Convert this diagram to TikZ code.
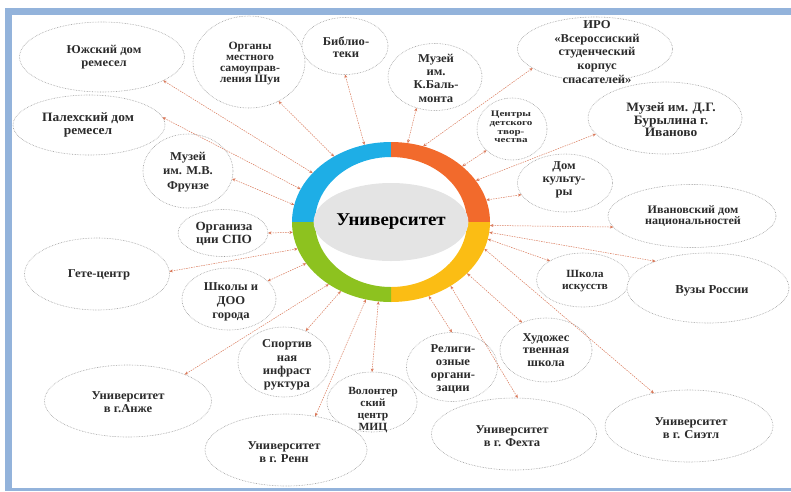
\documentclass[tikz,border=0pt]{standalone}
\usepackage{fontspec}
\setmainfont{Liberation Serif}[FakeStretch=1.05]
\usetikzlibrary{shapes.geometric,arrows.meta}
\definecolor{framec}{HTML}{93B3DB}
\definecolor{bubc}{HTML}{9A9A9A}
\definecolor{txtc}{HTML}{2B2B2B}
\definecolor{linkc}{HTML}{D9795A}
\definecolor{cblue}{HTML}{1EAEE6}
\definecolor{corange}{HTML}{F26A2C}
\definecolor{cyellow}{HTML}{FBBD14}
\definecolor{cgreen}{HTML}{8DC21F}
\definecolor{cgray}{HTML}{E4E4E4}
\newcommand{\fz}[2]{\fontsize{#1}{#2}\selectfont}
\begin{document}
\begin{tikzpicture}[x=1pt,y=-1pt,
  bub/.style={ellipse, draw=bubc, densely dotted, line width=0.6pt, fill=white,
    inner sep=0pt, outer sep=0pt},
  txt/.style={inner sep=0pt, align=center, text=txtc, font={\bfseries\fz{12}{12.8}}},
  conn/.style={draw=linkc, line width=0.5pt, dash pattern=on 1.5pt off 1pt,
    {Stealth[length=3.5pt,width=3pt]}-{Stealth[length=3.5pt,width=3pt]}}]
\useasboundingbox (0,0) rectangle (791,491);
% frame
\fill[framec] (5,8) rectangle (791,15.3);
\fill[framec] (5,8) rectangle (12.3,491);
\fill[framec] (5,488) rectangle (791,491);

% ring
\begin{scope}
\clip (391,222) rectangle (280,130);
\fill[cblue,even odd rule] (391,222) ellipse[x radius=99pt,y radius=80pt] (391,222) ellipse[x radius=76pt,y radius=65pt];
\end{scope}
\begin{scope}
\clip (391,222) rectangle (500,130);
\fill[corange,even odd rule] (391,222) ellipse[x radius=99pt,y radius=80pt] (391,222) ellipse[x radius=76pt,y radius=65pt];
\end{scope}
\begin{scope}
\clip (391,222) rectangle (500,310);
\fill[cyellow,even odd rule] (391,222) ellipse[x radius=99pt,y radius=80pt] (391,222) ellipse[x radius=76pt,y radius=65pt];
\end{scope}
\begin{scope}
\clip (391,222) rectangle (280,310);
\fill[cgreen,even odd rule] (391,222) ellipse[x radius=99pt,y radius=80pt] (391,222) ellipse[x radius=76pt,y radius=65pt];
\end{scope}
\node[ellipse, minimum width=198pt, minimum height=160pt, inner sep=0pt, outer sep=0pt] (ring) at (391,222) {};
\node[ellipse, fill=cgray, minimum width=150pt, minimum height=78pt, inner sep=0pt, text=black, font={\bfseries\fz{18}{20}}] (uni) at (391,222) {Университет};

% satellites (ellipse + its text)
\node[bub, minimum width=165pt, minimum height=70pt] (yuzh) at (102,57) {};
\node[txt] (yuzh-t) at (104,57) {Южский дом\\ремесел};
\node[bub, minimum width=112pt, minimum height=92pt] (organy) at (249,62) {};
\node[txt, font={\bfseries\fz{11.2}{11}}] (organy-t) at (250,63) {Органы\\местного\\самоуправ-\\ления Шуи};
\node[bub, minimum width=86pt, minimum height=57pt] (bibl) at (345,46) {};
\node[txt, font={\bfseries\fz{12}{11.7}}] (bibl-t) at (346,47) {Библио-\\теки};
\node[bub, minimum width=94pt, minimum height=67pt] (balm) at (435,77) {};
\node[txt, font={\bfseries\fz{12}{13.3}}] (balm-t) at (436,78) {Музей\\им.\\К.Баль-\\монта};
\node[bub, minimum width=155pt, minimum height=64pt] (iro) at (595,49) {};
\node[txt, font={\bfseries\fz{12}{13.6}}] (iro-t) at (597,52) {ИРО\\«Всероссиский\\студенческий\\корпус\\спасателей»};
\node[bub, minimum width=70pt, minimum height=62pt] (centr) at (512,129) {};
\node[txt, font={\bfseries\fz{8.5}{8.8}\addfontfeatures{FakeStretch=1.3}}] (centr-t) at (511,127) {Центры\\детского\\твор-\\чества};
\node[bub, minimum width=154pt, minimum height=72pt] (buryl) at (665,118) {};
\node[txt, font={\bfseries\fz{12.8}{12.4}}] (buryl-t) at (671,120) {Музей им. Д.Г.\\Бурылина г.\\Иваново};
\node[bub, minimum width=95pt, minimum height=58pt] (domk) at (565,183) {};
\node[txt, font={\bfseries\fz{12}{13.3}}] (domk-t) at (564,180) {Дом\\культу-\\ры};
\node[bub, minimum width=168pt, minimum height=63pt] (ivan) at (692,216) {};
\node[txt, font={\bfseries\fz{11.5}{11.5}}] (ivan-t) at (693,216) {Ивановский дом\\национальностей};
\node[bub, minimum width=93pt, minimum height=54pt] (shisk) at (583,280) {};
\node[txt, font={\bfseries\fz{11}{12.5}}] (shisk-t) at (585,281) {Школа\\искусств};
\node[bub, minimum width=162pt, minimum height=70pt] (vuzy) at (708,288) {};
\node[txt, font={\bfseries\fz{12.2}{12}}] (vuzy-t) at (712,291) {Вузы России};
\node[bub, minimum width=92pt, minimum height=64pt] (hud) at (546,350) {};
\node[txt] (hud-t) at (546,350) {Художес\\твенная\\школа};
\node[bub, minimum width=168pt, minimum height=72pt] (siat) at (689,426) {};
\node[txt] (siat-t) at (691,428) {Университет\\в г. Сиэтл};
\node[bub, minimum width=165pt, minimum height=72pt] (feht) at (514,434) {};
\node[txt] (feht-t) at (512,436) {Университет\\в г. Фехта};
\node[bub, minimum width=91pt, minimum height=69pt] (relig) at (452,367) {};
\node[txt, font={\bfseries\fz{12}{13.2}}] (relig-t) at (453,369) {Религи-\\озные\\органи-\\зации};
\node[bub, minimum width=90pt, minimum height=60pt] (volon) at (372,402) {};
\node[txt, font={\bfseries\fz{11}{12}}] (volon-t) at (373,410) {Волонтер\\ский\\центр\\МИЦ};
\node[bub, minimum width=162pt, minimum height=72pt] (renn) at (286,450) {};
\node[txt] (renn-t) at (284,452) {Университет\\в г. Ренн};
\node[bub, minimum width=92pt, minimum height=70pt] (sport) at (284,362) {};
\node[txt, font={\bfseries\fz{12}{13.3}}] (sport-t) at (287,365) {Спортив\\ная\\инфраст\\руктура};
\node[bub, minimum width=167pt, minimum height=72pt] (anzhe) at (128,401) {};
\node[txt] (anzhe-t) at (128,402) {Университет\\в г.Анже};
\node[bub, minimum width=94pt, minimum height=62pt] (shkoly) at (229,299) {};
\node[txt, font={\bfseries\fz{12}{14.2}}] (shkoly-t) at (231,302) {Школы и\\ДОО\\города};
\node[bub, minimum width=145pt, minimum height=72pt] (gete) at (97,274) {};
\node[txt] (gete-t) at (99,275) {Гете-центр};
\node[bub, minimum width=90pt, minimum height=47pt] (spo) at (223,233) {};
\node[txt, font={\bfseries\fz{12.5}{12.7}}] (spo-t) at (224,234) {Организа\\ции СПО};
\node[bub, minimum width=90pt, minimum height=74pt] (frunze) at (188,171) {};
\node[txt, font={\bfseries\fz{12}{14.5}}] (frunze-t) at (188,172) {Музей\\им. М.В.\\Фрунзе};
\node[bub, minimum width=152pt, minimum height=60pt] (palekh) at (89,125) {};
\node[txt, font={\bfseries\fz{12.8}{12.8}}] (palekh-t) at (88,125) {Палехский дом\\ремесел};

% connectors
\draw[conn] (yuzh.-21) -- (ring.148);
\draw[conn] (organy.-53) -- (ring.131);
\draw[conn] (bibl.-90) -- (ring.109);
\draw[conn] (balm.-121) -- (ring.78);
\draw[conn] (iro.-163) -- (ring.67);
\draw[conn] (centr.-140) -- (ring.38);
\draw[conn] (buryl.-167) -- (ring.26);
\draw[conn] (domk.-165) -- (ring.13);
\draw[conn] (ivan.-172) -- (ring.-2);
\draw[conn] (vuzy.153) -- (ring.-6);
\draw[conn] (shisk.150) -- (ring.-10);
\draw[conn] (siat.137) -- (ring.-16);
\draw[conn] (hud.131) -- (ring.-34);
\draw[conn] (feht.84) -- (ring.-47);
\draw[conn] (relig.90) -- (ring.-63);
\draw[conn] (volon.90) -- (ring.-99);
\draw[conn] (renn.49) -- (ring.-108);
\draw[conn] (sport.55) -- (ring.-126);
\draw[conn] (anzhe.25) -- (ring.-135);
\draw[conn] (shkoly) -- (ring.-154);
\draw[conn] (gete.2) -- (ring.-164);
\draw[conn] (spo.0) -- (ring.-174);
\draw[conn] (frunze.-10) -- (ring.170);
\draw[conn] (palekh.6) -- (ring.160);
\end{tikzpicture}
\end{document}
